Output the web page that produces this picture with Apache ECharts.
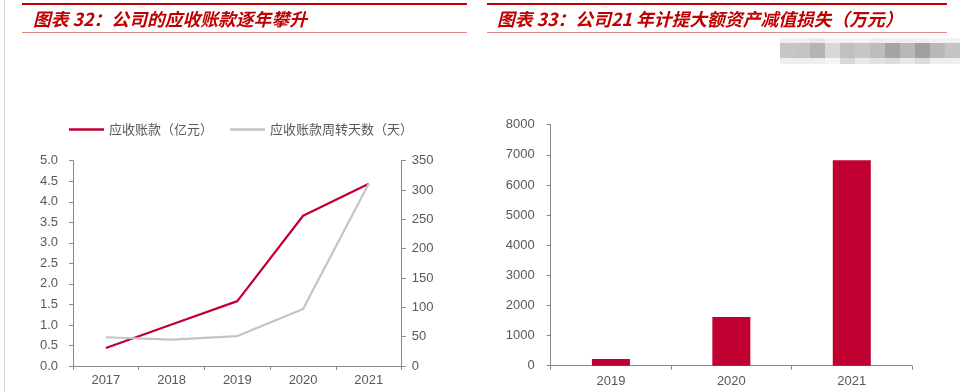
<!DOCTYPE html>
<html>
<head>
<meta charset="utf-8">
<script src="https://cdn.jsdelivr.net/npm/echarts@6/dist/echarts.min.js"></script>
<style>
html,body{margin:0;padding:0;background:#fff;}
#c{width:961px;height:392px;}
</style>
</head>
<body>
<div id="c"></div>
<script>
// ---- data ----
var years1 = ['2017', '2018', '2019', '2020', '2021'];
var receivables = [0.44, 1.01, 1.58, 3.66, 4.44];   // 应收账款（亿元）
var turnoverDays = [49, 45, 51, 97, 311];          // 应收账款周转天数（天）
var leftTicks = [0, 5, 0.5];                        // min, max, interval
var rightTicks = [0, 350, 50];
var years2 = ['2019', '2020', '2021'];
var impairment = [220, 1620, 6820];                // 资产减值损失（万元）
var barTicks = [0, 8000, 1000];
var title1 = '图表 32：公司的应收账款逐年攀升';
var title2 = '图表 33：公司21 年计提大额资产减值损失（万元）';
var legendNames = ['应收账款（亿元）', '应收账款周转天数（天）'];
var mosaicRow1 = ['#efeded','#f0eeee','#e8e6e6','#f4f2f2','#f2f0f0','#f4f2f2','#eeecec','#f0eeee','#eeeeee','#efefef','#f2f2f2','#f2f2f2'];
var mosaicRow2 = ['#c6c6c6','#c4c4c4','#b4b4b4','#d8d8d8','#c0c0c0','#c6c6c6','#bcbcbc','#a4a4a4','#b8b8b8','#a0a0a0','#b8b8b8','#c4c4c4'];
var mosaicRow3 = ['#eeeeee','#eeeeee','#eeeeee','#f6f6f6','#d8d8d8','#e8e8e8','#e2e2e2','#dcdcdc','#e8e8e8','#dcdcdc','#efefef','#efefef'];

var RED = '#C00030';
var GRAY_LINE = '#C4C4C4';
var AXIS = '#898989';
var LABEL = '#595959';
var NUMFONT = '"Liberation Sans", Arial, sans-serif';
var CJK = '"Noto Sans CJK SC", sans-serif';

var graphics = [
  {type:'rect', shape:{x:4, y:0, width:1, height:392}, style:{fill:'#d4d4d4'}, silent:true},
  {type:'rect', shape:{x:22, y:3, width:445, height:2}, style:{fill:'#C00000'}},
  {type:'rect', shape:{x:22, y:32, width:445, height:1}, style:{fill:'#E88585'}},
  {type:'rect', shape:{x:487, y:3, width:460, height:2}, style:{fill:'#C00000'}},
  {type:'rect', shape:{x:487, y:32, width:460, height:1}, style:{fill:'#E88585'}},
  {type:'text', style:{x:33, y:19.5, text:title1, fill:'#C00000', fontSize:17.8, fontWeight:'bold', fontStyle:'italic', fontFamily:CJK, verticalAlign:'middle'}},
  {type:'text', style:{x:497, y:19.5, text:title2, fill:'#C00000', fontSize:17.8, fontWeight:'bold', fontStyle:'italic', fontFamily:CJK, verticalAlign:'middle'}}
];
[mosaicRow1, mosaicRow2, mosaicRow3].forEach(function (row, r) {
  var ys = [38, 43, 58], hs = [5, 15, 6];
  row.forEach(function (c, i) {
    graphics.push({type:'rect', shape:{x:780 + i * 15, y:ys[r], width:15, height:hs[r]}, style:{fill:c}, silent:true});
  });
});

var chart = echarts.init(document.getElementById('c'), null, {renderer:'canvas'});
chart.setOption({
  animation: false,
  backgroundColor: '#fff',
  graphic: graphics,
  legend: {
    data: [
      {name: legendNames[0], icon: 'rect', itemStyle: {color: RED}},
      {name: legendNames[1], icon: 'rect', itemStyle: {color: GRAY_LINE}}
    ],
    left: 64, top: 118,
    itemWidth: 35, itemHeight: 2.4, itemGap: 17,
    textStyle: {color: LABEL, fontSize: 13, fontFamily: CJK}
  },
  grid: [
    {left: 73, right: 559.3, top: 160.7, bottom: 26},
    {left: 550.7, right: 49, top: 124.7, bottom: 26.3}
  ],
  xAxis: [
    {type:'category', gridIndex:0, data: years1, boundaryGap: true,
     axisLine:{lineStyle:{color:AXIS, width:1}},
     axisTick:{show:true, length:4, lineStyle:{color:AXIS}},
     axisLabel:{color:LABEL, fontSize:13, fontFamily:NUMFONT, margin:8}},
    {type:'category', gridIndex:1, data: years2, boundaryGap: true,
     axisLine:{lineStyle:{color:AXIS, width:1}},
     axisTick:{show:true, length:4, lineStyle:{color:AXIS}},
     axisLabel:{color:LABEL, fontSize:13, fontFamily:NUMFONT, margin:9}}
  ],
  yAxis: [
    {type:'value', gridIndex:0, min:leftTicks[0], max:leftTicks[1], interval:leftTicks[2], position:'left',
     axisLine:{show:true, lineStyle:{color:AXIS}},
     axisTick:{show:true, length:4, lineStyle:{color:AXIS}},
     splitLine:{show:false},
     axisLabel:{color:LABEL, fontSize:13, fontFamily:NUMFONT, margin:15, formatter:function(v){return v.toFixed(1);}}},
    {type:'value', gridIndex:0, min:rightTicks[0], max:rightTicks[1], interval:rightTicks[2], position:'right',
     axisLine:{show:true, lineStyle:{color:AXIS}},
     axisTick:{show:true, length:4, lineStyle:{color:AXIS}},
     splitLine:{show:false},
     axisLabel:{color:LABEL, fontSize:13, fontFamily:NUMFONT, margin:10, formatter:function(v){return String(v);}}},
    {type:'value', gridIndex:1, min:barTicks[0], max:barTicks[1], interval:barTicks[2],
     axisLine:{show:true, lineStyle:{color:AXIS}},
     axisTick:{show:true, length:4, lineStyle:{color:AXIS}},
     splitLine:{show:false},
     axisLabel:{color:LABEL, fontSize:13, fontFamily:NUMFONT, margin:16, formatter:function(v){return String(v);}}}
  ],
  series: [
    {name: legendNames[0], type:'line', xAxisIndex:0, yAxisIndex:0, data: receivables,
     symbol:'none', lineStyle:{color:RED, width:2.2}, itemStyle:{color:RED}},
    {name: legendNames[1], type:'line', xAxisIndex:0, yAxisIndex:1, data: turnoverDays,
     symbol:'none', lineStyle:{color:GRAY_LINE, width:2.2}, itemStyle:{color:GRAY_LINE}},
    {name: '资产减值损失', type:'bar', xAxisIndex:1, yAxisIndex:2, data: impairment,
     barWidth: 38, itemStyle:{color:RED}}
  ]
});
</script>
</body>
</html>
